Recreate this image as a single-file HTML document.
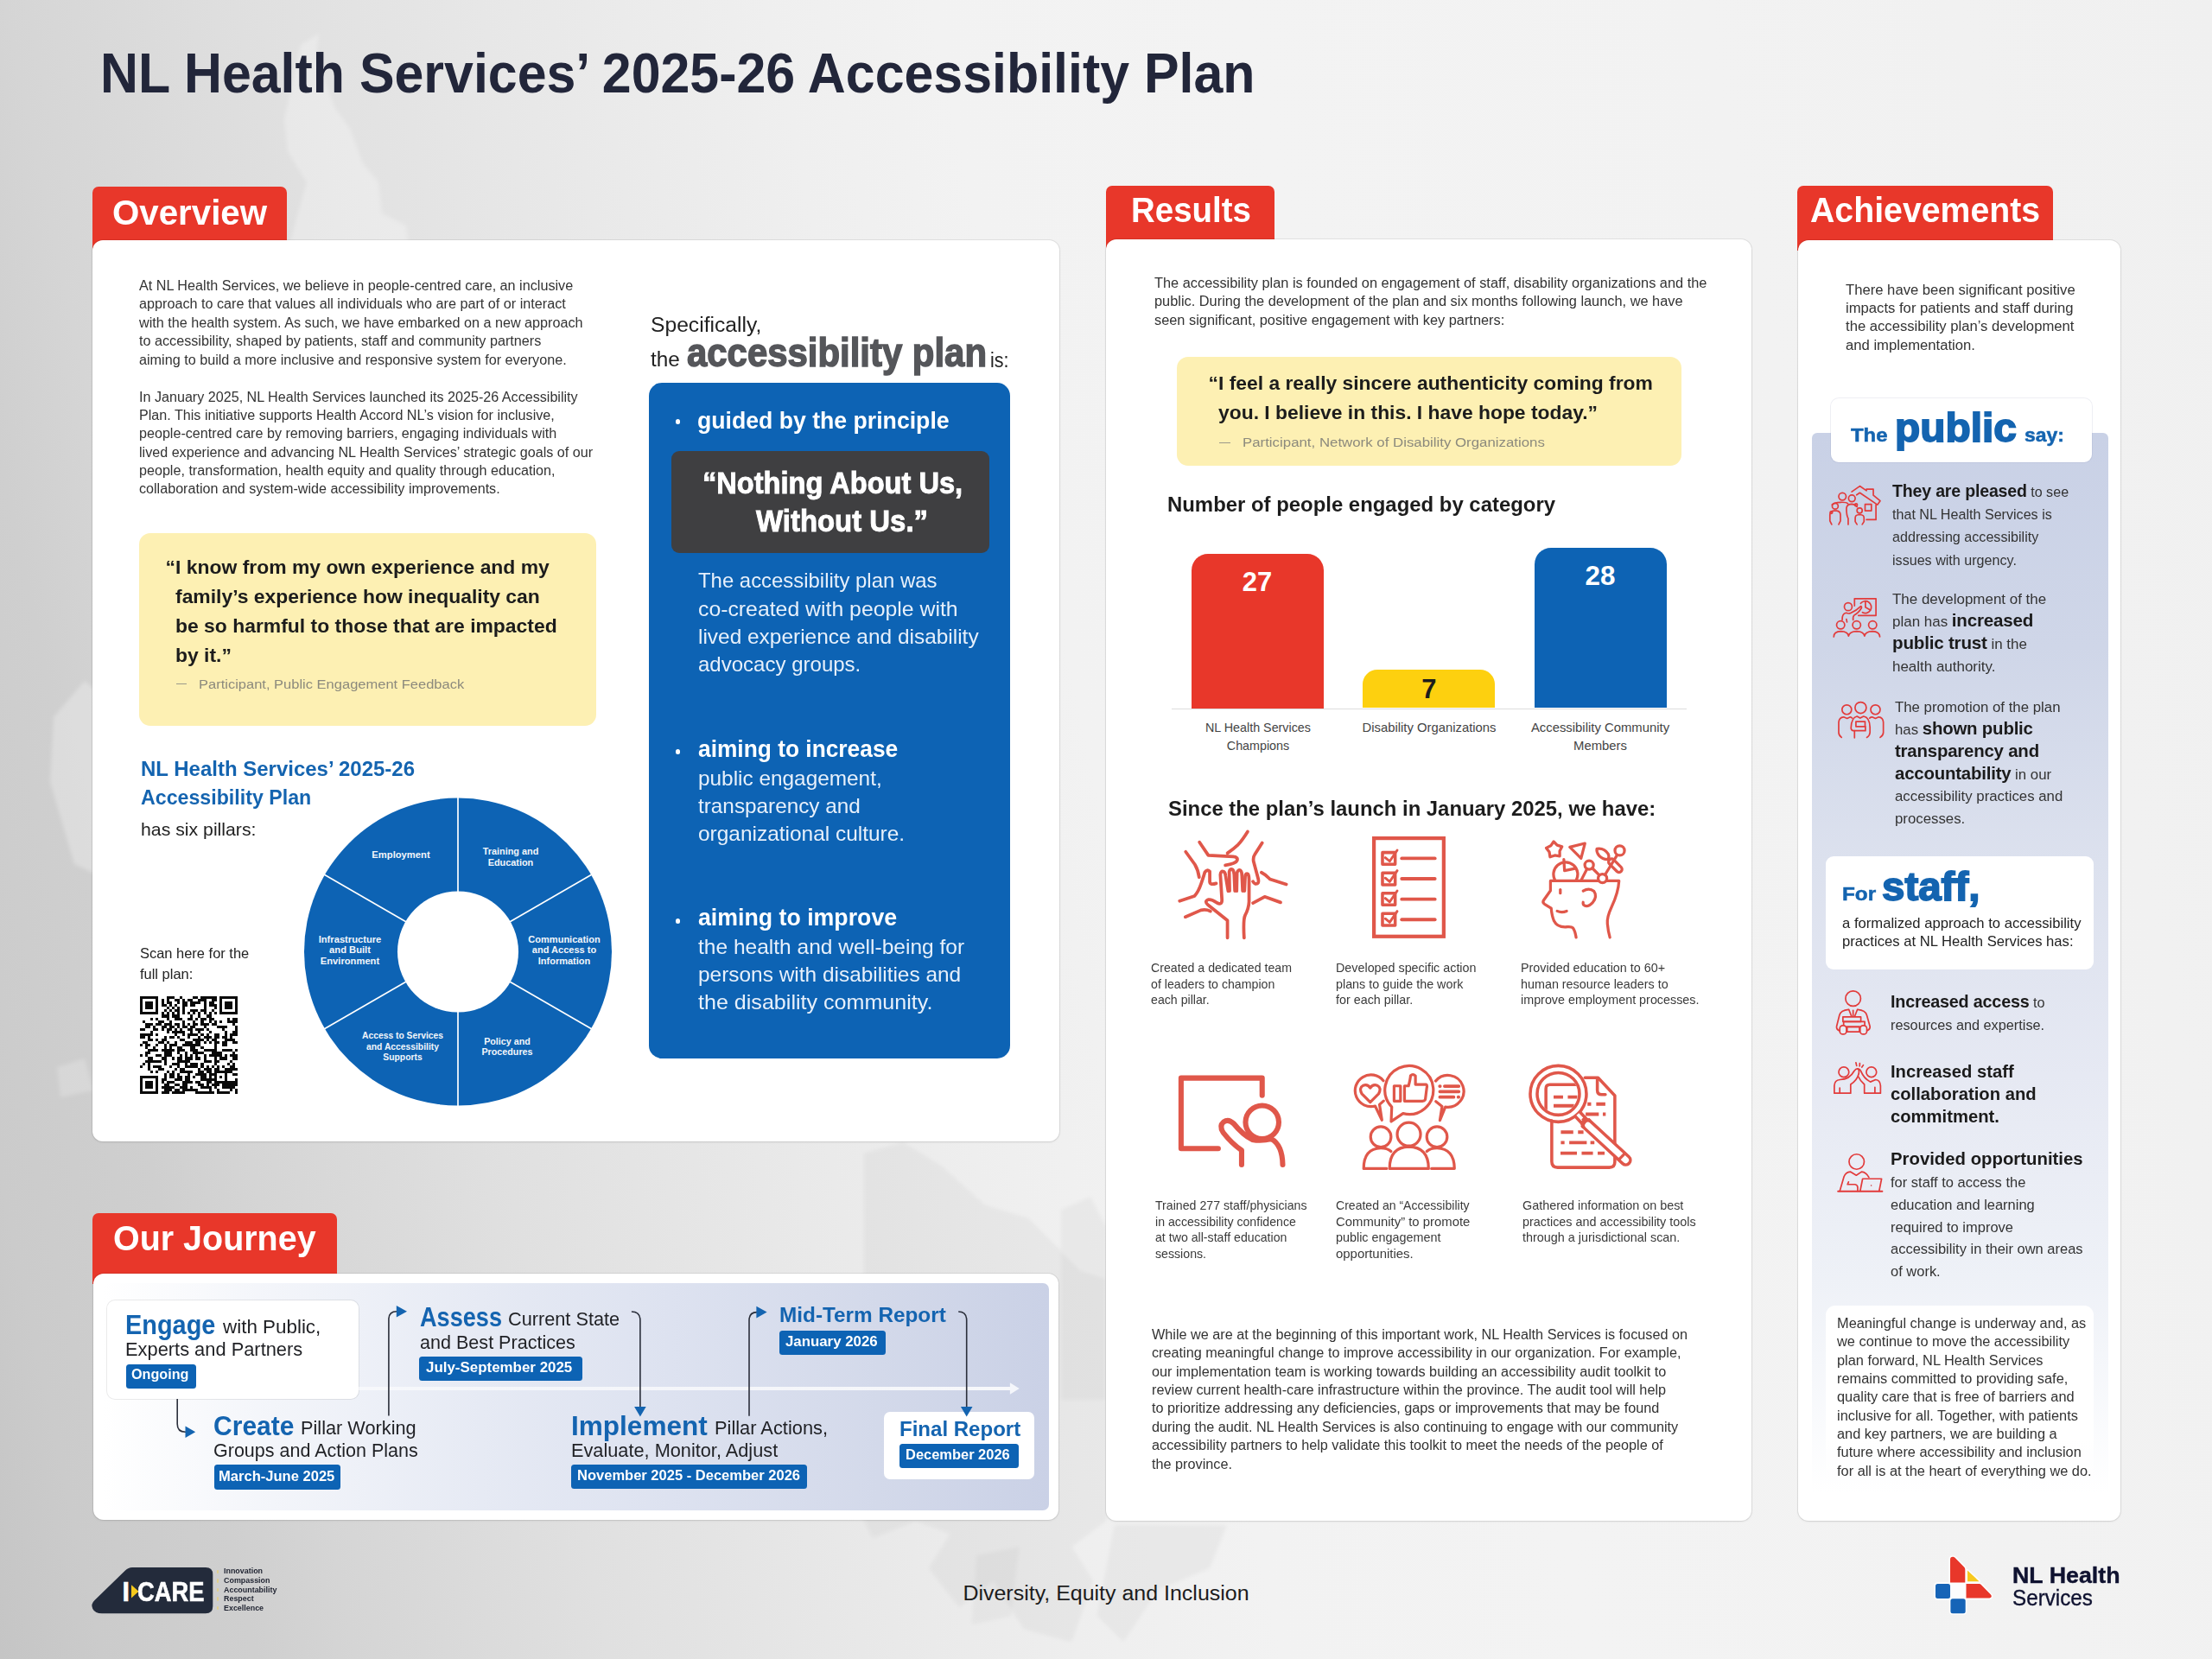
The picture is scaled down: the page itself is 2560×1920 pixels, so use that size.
<!DOCTYPE html><html lang="en"><head><meta charset="utf-8"><title>NL Health Services 2025-26 Accessibility Plan</title><style>
*{box-sizing:border-box}
html,body{margin:0;padding:0}
body{width:2560px;height:1920px;overflow:hidden;position:relative;font-family:"Liberation Sans",sans-serif;
background:#ececec}
#pg{position:absolute;left:0;top:0;width:2560px;height:1920px;overflow:hidden}
#pg>div,#pg>svg{position:absolute}
.t{white-space:nowrap}
b{font-weight:700}
</style></head><body><div id="pg">
<div style="left:0;top:0;width:2560px;height:1920px;background:linear-gradient(78deg,#c5c5c5 0%,#cbcbcb 4%,#cfcfcf 10%,#d5d5d5 13.9%,#e0e0e0 23.8%,#e8e8e8 33.7%,#efefef 43.6%,#f2f2f2 50%,#f3f3f3 62%,#f2f2f2 80%,#f0f0f0 100%)"></div>
<svg style="left:0;top:0" width="2560" height="1920" viewBox="0 0 2560 1920">
<defs><filter id="bl" x="-10%" y="-10%" width="120%" height="120%"><feGaussianBlur stdDeviation="2.2"/></filter></defs>
<g filter="url(#bl)">
<polygon points="329,138 348,52 369,39 366,66 387,124 405,149 420,189 438,211 442,247 470,261 474,290 333,290 355,211 333,175" fill="rgba(255,255,255,.27)"/>
<polygon points="62,830 98,788 112,800 112,1012 86,1000 58,905" fill="rgba(255,255,255,.27)"/>
<polygon points="66,1235 98,1225 108,1262 70,1270" fill="rgba(255,255,255,.2)"/>
<polygon points="1000,1335 1045,1322 1090,1350 1140,1395 1190,1410 1225,1445 1250,1470 1280,1480 1280,1760 1240,1790 1265,1830 1240,1900 1185,1885 1150,1830 1110,1860 1075,1815 1100,1775 1060,1760 1010,1780 1000,1760" fill="rgba(0,0,0,.035)"/>
<polygon points="1228,1400 1262,1385 1280,1420 1280,1620 1228,1620" fill="rgba(0,0,0,.03)"/>
<polygon points="1290,1765 1420,1765 1400,1815 1340,1840 1300,1900 1270,1870" fill="rgba(0,0,0,.035)"/>
<polygon points="1130,1800 1180,1790 1170,1870 1125,1880" fill="rgba(0,0,0,.03)"/>
</g></svg>
<div class="t" id="t0" style="left:115.6px;transform-origin:0 0;transform:scaleX(0.9437);top:45.1px;font-size:64.5px;line-height:80.62px;font-weight:700;color:#22263a;"><span class="ln">NL Health Services’ 2025-26 Accessibility Plan</span></div>
<div style="left:106.5px;top:216.0px;width:225.0px;height:74.0px;background:#e8372a;border-radius:7px 7px 0 0;"></div>
<div class="t" id="t1" style="left:129.5px;transform-origin:0 0;transform:scaleX(0.9822);top:220.6px;font-size:41px;line-height:51.25px;font-weight:700;color:#fff;"><span class="ln">Overview</span></div>
<div style="left:107.0px;top:278.0px;width:1118.5px;height:1043.0px;background:#fff;border-radius:12px;box-shadow:0 0 0 1px rgba(0,0,0,.07),0 1px 3px rgba(0,0,0,.08);"></div>
<div class="t" id="t2" style="left:160.5px;transform-origin:0 0;transform:scaleX(1.0113);top:319.9px;font-size:16px;line-height:21.45px;font-weight:400;color:#333;"><span class="ln">At NL Health Services, we believe in people-centred care, an inclusive</span><br><span class="ln">approach to care that values all individuals who are part of or interact</span><br><span class="ln">with the health system. As such, we have embarked on a new approach</span><br><span class="ln">to accessibility, shaped by patients, staff and community partners</span><br><span class="ln">aiming to build a more inclusive and responsive system for everyone.</span></div>
<div class="t" id="t3" style="left:160.5px;transform-origin:0 0;transform:scaleX(1.0079);top:448.6px;font-size:16px;line-height:21.36px;font-weight:400;color:#333;"><span class="ln">In January 2025, NL Health Services launched its 2025-26 Accessibility</span><br><span class="ln">Plan. This initiative supports Health Accord NL’s vision for inclusive,</span><br><span class="ln">people-centred care by removing barriers, engaging individuals with</span><br><span class="ln">lived experience and advancing NL Health Services’ strategic goals of our</span><br><span class="ln">people, transformation, health equity and quality through education,</span><br><span class="ln">collaboration and system-wide accessibility improvements.</span></div>
<div style="left:160.5px;top:617.0px;width:529.5px;height:223.0px;background:#fdf0b3;border-radius:13px;"></div>
<div class="t" id="t4" style="left:203.0px;transform-origin:0 0;transform:scaleX(1.0413);top:639.5px;font-size:22px;line-height:34.1px;font-weight:700;color:#1c1c1c;"><span class="ln"><span style="margin-left:-0.5em">“</span>I know from my own experience and my</span><br><span class="ln">family’s experience how inequality can</span><br><span class="ln">be so harmful to those that are impacted</span><br><span class="ln">by it.”</span></div>
<div style="left:203.7px;top:791.4px;width:12.3px;height:1.1px;background:#9c9a8a;border-radius:0px;"></div>
<div class="t" id="t5" style="left:230.0px;transform-origin:0 0;transform:scaleX(1.0718);top:782.2px;font-size:15.4px;line-height:19.25px;font-weight:400;color:#8c8a7d;"><span class="ln">Participant, Public Engagement Feedback</span></div>
<div class="t" id="t6" style="left:163.0px;transform-origin:0 0;transform:scaleX(1.0432);top:873.8px;font-size:23px;line-height:33.3px;font-weight:700;color:#1464b0;"><span class="ln">NL Health Services’ 2025-26</span></div>
<div class="t" id="t7" style="left:163.0px;transform-origin:0 0;transform:scaleX(1.0082);top:907.1px;font-size:23px;line-height:33.3px;font-weight:700;color:#1464b0;"><span class="ln">Accessibility Plan</span></div>
<div class="t" id="t8" style="left:163.0px;transform-origin:0 0;transform:scaleX(1.0122);top:946.6px;font-size:21px;line-height:26.25px;font-weight:400;color:#222;"><span class="ln">has six pillars:</span></div>
<div class="t" id="t9" style="left:162.2px;transform-origin:0 0;transform:scaleX(0.9970);top:1091.1px;font-size:16.5px;line-height:24px;font-weight:400;color:#222;"><span class="ln">Scan here for the</span><br><span class="ln">full plan:</span></div>
<svg style="left:162.2px;top:1152.8px" width="113.4" height="113.4" viewBox="0 0 37 37" shape-rendering="crispEdges"><rect width="37" height="37" fill="#fff"/><path d="M0 0h7v1h-7zM10 0h3v1h-3zM15 0h1v1h-1zM20 0h2v1h-2zM23 0h6v1h-6zM30 0h7v1h-7zM0 1h1v1h-1zM6 1h1v1h-1zM8 1h1v1h-1zM10 1h1v1h-1zM13 1h2v1h-2zM16 1h1v1h-1zM18 1h2v1h-2zM22 1h3v1h-3zM27 1h2v1h-2zM30 1h1v1h-1zM36 1h1v1h-1zM0 2h1v1h-1zM2 2h3v1h-3zM6 2h1v1h-1zM8 2h1v1h-1zM10 2h2v1h-2zM14 2h1v1h-1zM16 2h2v1h-2zM19 2h4v1h-4zM24 2h1v1h-1zM26 2h2v1h-2zM30 2h1v1h-1zM32 2h3v1h-3zM36 2h1v1h-1zM0 3h1v1h-1zM2 3h3v1h-3zM6 3h1v1h-1zM8 3h2v1h-2zM11 3h1v1h-1zM13 3h1v1h-1zM16 3h2v1h-2zM19 3h2v1h-2zM24 3h1v1h-1zM26 3h3v1h-3zM30 3h1v1h-1zM32 3h3v1h-3zM36 3h1v1h-1zM0 4h1v1h-1zM2 4h3v1h-3zM6 4h1v1h-1zM10 4h1v1h-1zM12 4h1v1h-1zM14 4h1v1h-1zM16 4h1v1h-1zM24 4h1v1h-1zM28 4h1v1h-1zM30 4h1v1h-1zM32 4h3v1h-3zM36 4h1v1h-1zM0 5h1v1h-1zM6 5h1v1h-1zM9 5h1v1h-1zM11 5h1v1h-1zM13 5h2v1h-2zM16 5h1v1h-1zM19 5h3v1h-3zM23 5h2v1h-2zM27 5h1v1h-1zM30 5h1v1h-1zM36 5h1v1h-1zM0 6h7v1h-7zM8 6h1v1h-1zM10 6h1v1h-1zM12 6h1v1h-1zM14 6h1v1h-1zM16 6h1v1h-1zM18 6h1v1h-1zM20 6h1v1h-1zM22 6h1v1h-1zM24 6h1v1h-1zM26 6h1v1h-1zM28 6h1v1h-1zM30 6h7v1h-7zM8 7h3v1h-3zM12 7h3v1h-3zM19 7h1v1h-1zM22 7h1v1h-1zM25 7h2v1h-2zM4 8h1v1h-1zM6 8h1v1h-1zM10 8h1v1h-1zM13 8h3v1h-3zM18 8h2v1h-2zM21 8h1v1h-1zM23 8h2v1h-2zM26 8h2v1h-2zM33 8h1v1h-1zM35 8h2v1h-2zM1 9h1v1h-1zM7 9h2v1h-2zM11 9h1v1h-1zM16 9h1v1h-1zM20 9h1v1h-1zM23 9h1v1h-1zM26 9h1v1h-1zM28 9h1v1h-1zM30 9h1v1h-1zM33 9h4v1h-4zM2 10h3v1h-3zM6 10h2v1h-2zM9 10h3v1h-3zM13 10h2v1h-2zM16 10h1v1h-1zM18 10h1v1h-1zM20 10h2v1h-2zM23 10h3v1h-3zM27 10h2v1h-2zM35 10h1v1h-1zM2 11h2v1h-2zM5 11h1v1h-1zM8 11h2v1h-2zM11 11h2v1h-2zM14 11h1v1h-1zM16 11h2v1h-2zM19 11h2v1h-2zM24 11h1v1h-1zM29 11h4v1h-4zM36 11h1v1h-1zM0 12h2v1h-2zM5 12h2v1h-2zM8 12h1v1h-1zM10 12h2v1h-2zM13 12h1v1h-1zM15 12h1v1h-1zM18 12h2v1h-2zM21 12h3v1h-3zM25 12h1v1h-1zM31 12h1v1h-1zM36 12h1v1h-1zM4 13h1v1h-1zM10 13h1v1h-1zM12 13h5v1h-5zM19 13h1v1h-1zM22 13h1v1h-1zM26 13h1v1h-1zM32 13h1v1h-1zM35 13h2v1h-2zM0 14h5v1h-5zM6 14h1v1h-1zM13 14h1v1h-1zM16 14h1v1h-1zM18 14h4v1h-4zM23 14h1v1h-1zM25 14h1v1h-1zM28 14h2v1h-2zM32 14h1v1h-1zM34 14h3v1h-3zM0 15h2v1h-2zM3 15h1v1h-1zM9 15h1v1h-1zM11 15h2v1h-2zM14 15h1v1h-1zM18 15h1v1h-1zM22 15h1v1h-1zM24 15h3v1h-3zM28 15h2v1h-2zM31 15h2v1h-2zM34 15h1v1h-1zM3 16h2v1h-2zM6 16h1v1h-1zM8 16h2v1h-2zM15 16h2v1h-2zM20 16h4v1h-4zM25 16h1v1h-1zM27 16h2v1h-2zM32 16h4v1h-4zM1 17h2v1h-2zM7 17h2v1h-2zM10 17h1v1h-1zM13 17h1v1h-1zM17 17h3v1h-3zM21 17h2v1h-2zM24 17h1v1h-1zM26 17h1v1h-1zM28 17h2v1h-2zM31 17h2v1h-2zM35 17h2v1h-2zM0 18h1v1h-1zM2 18h2v1h-2zM6 18h1v1h-1zM9 18h1v1h-1zM11 18h3v1h-3zM16 18h7v1h-7zM28 18h1v1h-1zM31 18h2v1h-2zM2 19h1v1h-1zM5 19h1v1h-1zM9 19h1v1h-1zM11 19h1v1h-1zM14 19h2v1h-2zM19 19h2v1h-2zM23 19h1v1h-1zM28 19h1v1h-1zM3 20h4v1h-4zM8 20h5v1h-5zM14 20h3v1h-3zM19 20h3v1h-3zM24 20h5v1h-5zM31 20h4v1h-4zM36 20h1v1h-1zM2 21h2v1h-2zM9 21h3v1h-3zM14 21h1v1h-1zM17 21h1v1h-1zM20 21h4v1h-4zM27 21h4v1h-4zM35 21h1v1h-1zM0 22h1v1h-1zM2 22h1v1h-1zM6 22h2v1h-2zM9 22h3v1h-3zM15 22h1v1h-1zM17 22h1v1h-1zM19 22h1v1h-1zM21 22h1v1h-1zM24 22h1v1h-1zM26 22h5v1h-5zM32 22h1v1h-1zM34 22h3v1h-3zM3 23h2v1h-2zM8 23h2v1h-2zM12 23h1v1h-1zM14 23h2v1h-2zM17 23h3v1h-3zM21 23h2v1h-2zM24 23h1v1h-1zM28 23h1v1h-1zM30 23h3v1h-3zM35 23h2v1h-2zM2 24h6v1h-6zM9 24h1v1h-1zM14 24h5v1h-5zM24 24h3v1h-3zM28 24h2v1h-2zM34 24h1v1h-1zM1 25h1v1h-1zM3 25h1v1h-1zM9 25h1v1h-1zM12 25h3v1h-3zM17 25h1v1h-1zM19 25h3v1h-3zM23 25h1v1h-1zM28 25h1v1h-1zM33 25h1v1h-1zM35 25h1v1h-1zM0 26h1v1h-1zM3 26h1v1h-1zM5 26h3v1h-3zM11 26h1v1h-1zM14 26h1v1h-1zM17 26h5v1h-5zM23 26h1v1h-1zM25 26h1v1h-1zM27 26h1v1h-1zM29 26h1v1h-1zM31 26h1v1h-1zM34 26h2v1h-2zM3 27h1v1h-1zM7 27h2v1h-2zM13 27h1v1h-1zM15 27h2v1h-2zM22 27h1v1h-1zM24 27h3v1h-3zM28 27h2v1h-2zM32 27h5v1h-5zM4 28h1v1h-1zM6 28h1v1h-1zM10 28h1v1h-1zM12 28h1v1h-1zM15 28h5v1h-5zM22 28h2v1h-2zM25 28h2v1h-2zM28 28h7v1h-7zM9 29h1v1h-1zM11 29h2v1h-2zM14 29h1v1h-1zM18 29h1v1h-1zM21 29h4v1h-4zM26 29h3v1h-3zM32 29h1v1h-1zM35 29h2v1h-2zM0 30h7v1h-7zM9 30h1v1h-1zM11 30h2v1h-2zM14 30h2v1h-2zM17 30h2v1h-2zM20 30h1v1h-1zM23 30h2v1h-2zM26 30h1v1h-1zM28 30h1v1h-1zM30 30h1v1h-1zM32 30h1v1h-1zM0 31h1v1h-1zM6 31h1v1h-1zM8 31h2v1h-2zM13 31h3v1h-3zM17 31h2v1h-2zM23 31h6v1h-6zM32 31h1v1h-1zM36 31h1v1h-1zM0 32h1v1h-1zM2 32h3v1h-3zM6 32h1v1h-1zM8 32h1v1h-1zM10 32h3v1h-3zM16 32h4v1h-4zM21 32h2v1h-2zM25 32h2v1h-2zM28 32h9v1h-9zM0 33h1v1h-1zM2 33h3v1h-3zM6 33h1v1h-1zM9 33h2v1h-2zM13 33h2v1h-2zM16 33h2v1h-2zM22 33h2v1h-2zM25 33h1v1h-1zM27 33h3v1h-3zM31 33h6v1h-6zM0 34h1v1h-1zM2 34h3v1h-3zM6 34h1v1h-1zM8 34h5v1h-5zM15 34h3v1h-3zM19 34h1v1h-1zM23 34h4v1h-4zM28 34h1v1h-1zM31 34h5v1h-5zM0 35h1v1h-1zM6 35h1v1h-1zM9 35h3v1h-3zM13 35h2v1h-2zM16 35h6v1h-6zM26 35h1v1h-1zM29 35h1v1h-1zM34 35h1v1h-1zM36 35h1v1h-1zM0 36h7v1h-7zM8 36h3v1h-3zM12 36h5v1h-5zM21 36h7v1h-7zM29 36h5v1h-5zM36 36h1v1h-1z" fill="#0a0a0a"/></svg>
<svg style="left:340px;top:915px" width="380" height="375" viewBox="340 915 380 375">
<circle cx="530.0" cy="1101.5" r="178.0" fill="#0d63b4"/>
<g stroke="#fff" stroke-width="1.7"><line x1="530.0" y1="1038.5" x2="530.0" y2="922.5"/><line x1="584.6" y1="1070.0" x2="685.0" y2="1012.0"/><line x1="584.6" y1="1133.0" x2="685.0" y2="1191.0"/><line x1="530.0" y1="1164.5" x2="530.0" y2="1280.5"/><line x1="475.4" y1="1133.0" x2="375.0" y2="1191.0"/><line x1="475.4" y1="1070.0" x2="375.0" y2="1012.0"/></g>
<circle cx="530.0" cy="1101.5" r="70.0" fill="#fff"/></svg>
<div class="t" id="t10" style="left:464.0px;text-align:center;transform-origin:0 0;transform:scaleX(1.0024) translateX(-50%);top:983.0px;font-size:11.2px;line-height:12.8px;font-weight:700;color:#f2f6fb;"><span class="ln">Employment</span></div>
<div class="t" id="t11" style="left:591.0px;text-align:center;transform-origin:0 0;transform:scaleX(0.9712) translateX(-50%);top:978.9px;font-size:11.2px;line-height:12.8px;font-weight:700;color:#f2f6fb;"><span class="ln">Training and</span><br><span class="ln">Education</span></div>
<div class="t" id="t12" style="left:405.0px;text-align:center;transform-origin:0 0;transform:scaleX(0.9993) translateX(-50%);top:1080.5px;font-size:11.2px;line-height:12.8px;font-weight:700;color:#f2f6fb;"><span class="ln">Infrastructure</span><br><span class="ln">and Built</span><br><span class="ln">Environment</span></div>
<div class="t" id="t13" style="left:653.4px;text-align:center;transform-origin:0 0;transform:scaleX(0.9854) translateX(-50%);top:1080.5px;font-size:11.2px;line-height:12.8px;font-weight:700;color:#f2f6fb;"><span class="ln">Communication</span><br><span class="ln">and Access to</span><br><span class="ln">Information</span></div>
<div class="t" id="t14" style="left:466.3px;text-align:center;transform-origin:0 0;transform:scaleX(0.9216) translateX(-50%);top:1191.8px;font-size:11.2px;line-height:12.8px;font-weight:700;color:#f2f6fb;"><span class="ln">Access to Services</span><br><span class="ln">and Accessibility</span><br><span class="ln">Supports</span></div>
<div class="t" id="t15" style="left:586.7px;text-align:center;transform-origin:0 0;transform:scaleX(0.9600) translateX(-50%);top:1198.5px;font-size:11.2px;line-height:12.8px;font-weight:700;color:#f2f6fb;"><span class="ln">Policy and</span><br><span class="ln">Procedures</span></div>
<div class="t" id="t16" style="left:753.0px;transform-origin:0 0;transform:scaleX(1.0487);top:362.4px;font-size:23.5px;line-height:29.38px;font-weight:400;color:#222;"><span class="ln">Specifically,</span></div>
<div class="t" id="t17" style="left:753.0px;transform-origin:0 0;transform:scaleX(1.0345);top:402.0px;font-size:23.5px;line-height:29.38px;font-weight:400;color:#222;"><span class="ln">the</span></div>
<div class="t" id="t18" style="left:795.4px;transform-origin:0 0;transform:scaleX(0.9208);top:380.6px;font-size:45.5px;line-height:56.88px;font-weight:700;color:#55565a;-webkit-text-stroke:1.5px #55565a;"><span class="ln">accessibility plan</span></div>
<div class="t" id="t19" style="left:1145.7px;transform-origin:0 0;transform:scaleX(0.9348);top:402.5px;font-size:23px;line-height:28.75px;font-weight:400;color:#222;"><span class="ln">is:</span></div>
<div style="left:751.3px;top:442.8px;width:418.2px;height:782.5px;background:#0d63b4;border-radius:15px;"></div>
<div style="left:781.8px;top:485.2px;width:5.6px;height:5.6px;background:#fff;border-radius:50%;"></div>
<div class="t" id="t20" style="left:807.4px;transform-origin:0 0;transform:scaleX(0.9515);top:468.8px;font-size:28px;line-height:35.0px;font-weight:700;color:#fff;"><span class="ln">guided by the principle</span></div>
<div style="left:776.6px;top:522.0px;width:368.0px;height:117.5px;background:#3f3f41;border-radius:9px;"></div>
<div class="t" id="t21" style="left:812.8px;transform-origin:0 0;transform:scaleX(0.9449);top:538.2px;font-size:34.5px;line-height:43.12px;font-weight:700;color:#fff;-webkit-text-stroke:0.9px #fff;"><span class="ln">“Nothing About Us,</span></div>
<div class="t" id="t22" style="left:874.5px;transform-origin:0 0;transform:scaleX(0.9541);top:582.3px;font-size:34.5px;line-height:43.12px;font-weight:700;color:#fff;-webkit-text-stroke:0.9px #fff;"><span class="ln">Without Us.”</span></div>
<div class="t" id="t23" style="left:808.3px;transform-origin:0 0;transform:scaleX(0.9962);top:656.3px;font-size:24px;line-height:32.2px;font-weight:400;color:#e7f0fb;"><span class="ln">The accessibility plan was</span></div>
<div class="t" id="t24" style="left:808.3px;transform-origin:0 0;transform:scaleX(1.0336);top:688.5px;font-size:24px;line-height:32.2px;font-weight:400;color:#e7f0fb;"><span class="ln">co-created with people with</span></div>
<div class="t" id="t25" style="left:808.3px;transform-origin:0 0;transform:scaleX(1.0180);top:720.7px;font-size:24px;line-height:32.2px;font-weight:400;color:#e7f0fb;"><span class="ln">lived experience and disability</span></div>
<div class="t" id="t26" style="left:808.3px;transform-origin:0 0;transform:scaleX(1.0010);top:752.9px;font-size:24px;line-height:32.2px;font-weight:400;color:#e7f0fb;"><span class="ln">advocacy groups.</span></div>
<div style="left:781.7px;top:867.2px;width:5.6px;height:5.6px;background:#fff;border-radius:50%;"></div>
<div class="t" id="t27" style="left:808.3px;transform-origin:0 0;transform:scaleX(0.9403);top:849.0px;font-size:28px;line-height:35.0px;font-weight:700;color:#fff;"><span class="ln">aiming to increase</span></div>
<div class="t" id="t28" style="left:808.3px;transform-origin:0 0;transform:scaleX(1.0154);top:884.6px;font-size:24px;line-height:32.2px;font-weight:400;color:#e7f0fb;"><span class="ln">public engagement,</span></div>
<div class="t" id="t29" style="left:808.3px;transform-origin:0 0;transform:scaleX(1.0127);top:916.8px;font-size:24px;line-height:32.2px;font-weight:400;color:#e7f0fb;"><span class="ln">transparency and</span></div>
<div class="t" id="t30" style="left:808.3px;transform-origin:0 0;transform:scaleX(1.0183);top:949.0px;font-size:24px;line-height:32.2px;font-weight:400;color:#e7f0fb;"><span class="ln">organizational culture.</span></div>
<div style="left:781.7px;top:1063.2px;width:5.6px;height:5.6px;background:#fff;border-radius:50%;"></div>
<div class="t" id="t31" style="left:808.3px;transform-origin:0 0;transform:scaleX(0.9542);top:1044.3px;font-size:28px;line-height:35.0px;font-weight:700;color:#fff;"><span class="ln">aiming to improve</span></div>
<div class="t" id="t32" style="left:808.3px;transform-origin:0 0;transform:scaleX(1.0217);top:1079.9px;font-size:24px;line-height:32.2px;font-weight:400;color:#e7f0fb;"><span class="ln">the health and well-being for</span></div>
<div class="t" id="t33" style="left:808.3px;transform-origin:0 0;transform:scaleX(1.0180);top:1112.1px;font-size:24px;line-height:32.2px;font-weight:400;color:#e7f0fb;"><span class="ln">persons with disabilities and</span></div>
<div class="t" id="t34" style="left:808.3px;transform-origin:0 0;transform:scaleX(1.0452);top:1144.3px;font-size:24px;line-height:32.2px;font-weight:400;color:#e7f0fb;"><span class="ln">the disability community.</span></div>
<div style="left:106.8px;top:1403.6px;width:283.4px;height:82.4px;background:#e8372a;border-radius:7px 7px 0 0;"></div>
<div class="t" id="t35" style="left:131.2px;transform-origin:0 0;transform:scaleX(0.9623);top:1408.0px;font-size:41px;line-height:51.25px;font-weight:700;color:#fff;"><span class="ln">Our Journey</span></div>
<div style="left:107.6px;top:1473.5px;width:1117.4px;height:285.1px;background:#fff;border-radius:12px;box-shadow:0 0 0 1px rgba(0,0,0,.07),0 1px 3px rgba(0,0,0,.08);"></div>
<div style="left:118.6px;top:1485.3px;width:1095.9px;height:263.0px;background:linear-gradient(to right,#ffffff 0%,#f3f5fa 18%,#e6eaf4 40%,#dde2f0 60%,#d3d9ea 82%,#cad1e6 100%);border-radius:7px;"></div>
<div style="left:124.4px;top:1505.3px;width:290.8px;height:113.3px;background:#fff;border-radius:9px;box-shadow:0 0 0 1px rgba(0,0,0,.08);"></div>
<div style="left:415.0px;top:1605.1px;width:755.0px;height:3.8px;background:linear-gradient(to right,rgba(255,255,255,.55),rgba(255,255,255,.85));border-radius:0px;"></div>
<svg style="left:1160px;top:1595px" width="24" height="24" viewBox="0 0 24 24"><polygon points="8.9,5.2 19.7,12 8.9,18.8" fill="#f4f6fb"/></svg>
<div class="t" id="t36" style="left:144.8px;transform-origin:0 0;transform:scaleX(0.9476);top:1513.6px;font-size:30.5px;line-height:38.12px;font-weight:700;color:#1464b0;"><span class="ln">Engage</span></div>
<div class="t" id="t37" style="left:257.9px;transform-origin:0 0;transform:scaleX(1.0046);top:1521.5px;font-size:22.3px;line-height:27.88px;font-weight:400;color:#1f2024;"><span class="ln">with Public,</span></div>
<div class="t" id="t38" style="left:144.8px;transform-origin:0 0;transform:scaleX(0.9797);top:1547.8px;font-size:22.3px;line-height:27.88px;font-weight:400;color:#1f2024;"><span class="ln">Experts and Partners</span></div>
<div style="left:146.1px;top:1578.5px;width:81.4px;height:28.5px;background:#0d63b4;border-radius:3.5px;"></div>
<div class="t" id="t39" style="left:151.5px;transform-origin:0 0;transform:scaleX(0.9517);top:1580.2px;font-size:17px;line-height:21.25px;font-weight:700;color:#fff;"><span class="ln">Ongoing</span></div>
<div class="t" id="t40" style="left:246.5px;transform-origin:0 0;transform:scaleX(0.9847);top:1631.4px;font-size:30.5px;line-height:38.12px;font-weight:700;color:#1464b0;"><span class="ln">Create</span></div>
<div class="t" id="t41" style="left:348.2px;transform-origin:0 0;transform:scaleX(0.9750);top:1639.3px;font-size:22.3px;line-height:27.88px;font-weight:400;color:#1f2024;"><span class="ln">Pillar Working</span></div>
<div class="t" id="t42" style="left:246.5px;transform-origin:0 0;transform:scaleX(0.9645);top:1665.3px;font-size:22.3px;line-height:27.88px;font-weight:400;color:#1f2024;"><span class="ln">Groups and Action Plans</span></div>
<div style="left:247.8px;top:1695.0px;width:145.9px;height:28.6px;background:#0d63b4;border-radius:3.5px;"></div>
<div class="t" id="t43" style="left:253.2px;transform-origin:0 0;transform:scaleX(0.9735);top:1697.5px;font-size:17px;line-height:21.25px;font-weight:700;color:#fff;"><span class="ln">March-June 2025</span></div>
<div class="t" id="t44" style="left:485.7px;transform-origin:0 0;transform:scaleX(0.8891);top:1505.4px;font-size:30.5px;line-height:38.12px;font-weight:700;color:#1464b0;"><span class="ln">Assess</span></div>
<div class="t" id="t45" style="left:587.7px;transform-origin:0 0;transform:scaleX(0.9735);top:1513.3px;font-size:22.3px;line-height:27.88px;font-weight:400;color:#1f2024;"><span class="ln">Current State</span></div>
<div class="t" id="t46" style="left:485.7px;transform-origin:0 0;transform:scaleX(0.9672);top:1539.7px;font-size:22.3px;line-height:27.88px;font-weight:400;color:#1f2024;"><span class="ln">and Best Practices</span></div>
<div style="left:484.6px;top:1569.5px;width:189.6px;height:28.8px;background:#0d63b4;border-radius:3.5px;"></div>
<div class="t" id="t47" style="left:492.7px;transform-origin:0 0;transform:scaleX(0.9953);top:1572.3px;font-size:17px;line-height:21.25px;font-weight:700;color:#fff;"><span class="ln">July-September 2025</span></div>
<div class="t" id="t48" style="left:661.2px;transform-origin:0 0;transform:scaleX(1.0345);top:1630.7px;font-size:30.5px;line-height:38.12px;font-weight:700;color:#1464b0;"><span class="ln">Implement</span></div>
<div class="t" id="t49" style="left:827.1px;transform-origin:0 0;transform:scaleX(0.9788);top:1638.6px;font-size:22.3px;line-height:27.88px;font-weight:400;color:#1f2024;"><span class="ln">Pillar Actions,</span></div>
<div class="t" id="t50" style="left:661.2px;transform-origin:0 0;transform:scaleX(0.9746);top:1665.3px;font-size:22.3px;line-height:27.88px;font-weight:400;color:#1f2024;"><span class="ln">Evaluate, Monitor, Adjust</span></div>
<div style="left:661.2px;top:1694.6px;width:273.1px;height:28.4px;background:#0d63b4;border-radius:3.5px;"></div>
<div class="t" id="t51" style="left:667.7px;transform-origin:0 0;transform:scaleX(0.9716);top:1697.1px;font-size:17px;line-height:21.25px;font-weight:700;color:#fff;"><span class="ln">November 2025 - December 2026</span></div>
<div class="t" id="t52" style="left:902.3px;transform-origin:0 0;transform:scaleX(0.9890);top:1507.1px;font-size:24.6px;line-height:30.75px;font-weight:700;color:#1464b0;"><span class="ln">Mid-Term Report</span></div>
<div style="left:902.3px;top:1539.7px;width:122.3px;height:27.9px;background:#0d63b4;border-radius:3.5px;"></div>
<div class="t" id="t53" style="left:908.5px;transform-origin:0 0;transform:scaleX(0.9893);top:1541.6px;font-size:17px;line-height:21.25px;font-weight:700;color:#fff;"><span class="ln">January 2026</span></div>
<div style="left:1023.0px;top:1633.5px;width:173.8px;height:78.5px;background:#fff;border-radius:7px;"></div>
<div class="t" id="t54" style="left:1041.4px;transform-origin:0 0;transform:scaleX(0.9772);top:1639.2px;font-size:24.6px;line-height:30.75px;font-weight:700;color:#1464b0;"><span class="ln">Final Report</span></div>
<div style="left:1041.4px;top:1670.7px;width:137.8px;height:28.5px;background:#0d63b4;border-radius:3.5px;"></div>
<div class="t" id="t55" style="left:1048.2px;transform-origin:0 0;transform:scaleX(0.9674);top:1672.7px;font-size:17px;line-height:21.25px;font-weight:700;color:#fff;"><span class="ln">December 2026</span></div>
<svg style="left:0;top:1480px" width="1240" height="280" viewBox="0 1480 1240 280" fill="none" stroke="#2b2f3b" stroke-width="1.6">
<path d="M205.2 1619 V1648 Q205.2 1657.2 214.4 1657.2 H216"/>
<path d="M449.9 1638.5 V1527 Q449.9 1517.7 459 1517.7 H460"/>
<path d="M730.9 1518 Q740.9 1518 740.9 1528 V1629"/>
<path d="M867 1638.7 V1528 Q867 1518.6 876 1518.6 H877"/>
<path d="M1109.2 1518 Q1118.7 1518 1118.7 1528 V1629"/>
<g fill="#1464b0" stroke="none">
<polygon points="214.5,1650.4 226.2,1657.2 214.5,1664"/>
<polygon points="458.8,1510.9 471,1517.7 458.8,1524.5"/>
<polygon points="734.1,1628 747.7,1628 740.9,1639.6"/>
<polygon points="875.4,1511.8 887.6,1518.6 875.4,1525.4"/>
<polygon points="1111.9,1628 1125.5,1628 1118.7,1639.6"/>
</g></svg>
<div style="left:1279.7px;top:214.6px;width:195.7px;height:75.4px;background:#e8372a;border-radius:7px 7px 0 0;"></div>
<div class="t" id="t56" style="left:1309.3px;transform-origin:0 0;transform:scaleX(0.9378);top:218.3px;font-size:41px;line-height:51.25px;font-weight:700;color:#fff;"><span class="ln">Results</span></div>
<div style="left:1279.7px;top:277.3px;width:747.3px;height:1482.7px;background:#fff;border-radius:12px;box-shadow:0 0 0 1px rgba(0,0,0,.07),0 1px 3px rgba(0,0,0,.08);"></div>
<div class="t" id="t57" style="left:1336.1px;transform-origin:0 0;transform:scaleX(1.0216);top:316.8px;font-size:16px;line-height:21.4px;font-weight:400;color:#333;"><span class="ln">The accessibility plan is founded on engagement of staff, disability organizations and the</span><br><span class="ln">public. During the development of the plan and six months following launch, we have</span><br><span class="ln">seen significant, positive engagement with key partners:</span></div>
<div style="left:1362.2px;top:413.0px;width:583.8px;height:126.4px;background:#fdf0b3;border-radius:13px;"></div>
<div class="t" id="t58" style="left:1410.0px;transform-origin:0 0;transform:scaleX(1.0387);top:426.7px;font-size:22px;line-height:34.3px;font-weight:700;color:#1c1c1c;"><span class="ln"><span style="margin-left:-0.5em">“</span>I feel a really sincere authenticity coming from</span><br><span class="ln">you. I believe in this. I have hope today.”</span></div>
<div style="left:1411.0px;top:511.6px;width:12.8px;height:1.1px;background:#9c9a8a;border-radius:0px;"></div>
<div class="t" id="t59" style="left:1438.1px;transform-origin:0 0;transform:scaleX(1.0937);top:502.4px;font-size:15.4px;line-height:19.25px;font-weight:400;color:#8c8a7d;"><span class="ln">Participant, Network of Disability Organizations</span></div>
<div class="t" id="t60" style="left:1351.2px;transform-origin:0 0;transform:scaleX(1.0221);top:569.9px;font-size:23.4px;line-height:29.25px;font-weight:700;color:#1c1c1c;"><span class="ln">Number of people engaged by category</span></div>
<div style="left:1356.4px;top:819.5px;width:596.0px;height:1.6px;background:#dcdcdc;border-radius:0px;"></div>
<div style="left:1379.1px;top:640.5px;width:152.8px;height:179.0px;background:#e8372a;border-radius:19px 19px 0 0;"></div>
<div style="left:1577.4px;top:774.8px;width:152.8px;height:44.7px;background:#fdd00f;border-radius:17px 17px 0 0;"></div>
<div style="left:1775.8px;top:633.8px;width:152.8px;height:185.7px;background:#0d63b4;border-radius:19px 19px 0 0;"></div>
<div class="t" id="t61" style="left:1455.3px;text-align:center;transform-origin:0 0;transform:scaleX(0.9976) translateX(-50%);top:654.5px;font-size:31px;line-height:38.75px;font-weight:700;color:#fff;"><span class="ln">27</span></div>
<div class="t" id="t62" style="left:1653.8px;text-align:center;transform-origin:0 0;transform:scaleX(1.0000) translateX(-50%);top:778.5px;font-size:31px;line-height:38.75px;font-weight:700;color:#1c1c1c;"><span class="ln">7</span></div>
<div class="t" id="t63" style="left:1852.3px;text-align:center;transform-origin:0 0;transform:scaleX(1.0121) translateX(-50%);top:647.7px;font-size:31px;line-height:38.75px;font-weight:700;color:#fff;"><span class="ln">28</span></div>
<div class="t" id="t64" style="left:1455.5px;text-align:center;transform-origin:0 0;transform:scaleX(0.9543) translateX(-50%);top:832.3px;font-size:15px;line-height:20.5px;font-weight:400;color:#444;"><span class="ln">NL Health Services</span><br><span class="ln">Champions</span></div>
<div class="t" id="t65" style="left:1654.1px;text-align:center;transform-origin:0 0;transform:scaleX(0.9883) translateX(-50%);top:832.3px;font-size:15px;line-height:20.5px;font-weight:400;color:#444;"><span class="ln">Disability Organizations</span></div>
<div class="t" id="t66" style="left:1852.2px;text-align:center;transform-origin:0 0;transform:scaleX(0.9906) translateX(-50%);top:832.3px;font-size:15px;line-height:20.5px;font-weight:400;color:#444;"><span class="ln">Accessibility Community</span><br><span class="ln">Members</span></div>
<div class="t" id="t67" style="left:1351.6px;transform-origin:0 0;transform:scaleX(1.0204);top:921.6px;font-size:23.4px;line-height:29.25px;font-weight:700;color:#1c1c1c;"><span class="ln">Since the plan’s launch in January 2025, we have:</span></div>
<svg style="left:1355px;top:955px" width="144" height="136" viewBox="0 0 1757 1659" fill="none" stroke="#e0574a" stroke-width="46" stroke-linecap="round" stroke-linejoin="round">
<path d="M1085 90 Q1010 210 950 275 Q880 340 800 395"/>
<path d="M405 240 L530 425 L880 445 Q955 450 935 500 Q920 540 770 565"/>
<path d="M210 375 L340 555 Q385 630 400 735"/>
<path d="M125 1070 L335 1000 Q390 940 430 820 Q465 720 480 665 Q510 615 550 655 L550 800 Q555 850 640 822"/>
<path d="M800 1590 V1345 L525 1125 Q465 1075 535 1050 Q580 1045 650 1095 Q725 1135 722 1050 L700 700 Q705 640 745 655 Q770 670 775 720 L810 930"/>
<path d="M830 930 L825 660 Q835 610 870 625 Q890 640 895 700 L905 930"/>
<path d="M930 930 L935 670 Q950 620 985 640 Q1005 660 1005 720 L1015 930"/>
<path d="M1040 930 L1050 720 Q1060 670 1090 690 Q1105 710 1105 780 L1105 1080 Q1100 1180 1050 1270 Q1020 1330 1035 1590"/>
<path d="M1290 250 L1185 415 Q1160 450 1168 510 L1235 760 Q1250 835 1195 828 Q1170 820 1160 795"/>
<path d="M1280 668 Q1345 700 1400 762 L1630 835"/>
<path d="M1160 1100 L1325 1010 L1550 1090"/>
<path d="M205 1295 L425 1200 Q500 1185 560 1215"/>
</svg>
<svg style="left:1575px;top:955px" width="120" height="140" viewBox="0 0 1422 1659" fill="none" stroke="#e0574a" stroke-width="44" stroke-linecap="round" stroke-linejoin="round"><rect x="179" y="179" width="957" height="1347" stroke-width="50" stroke-linejoin="miter"/><rect x="296" y="375" width="174" height="162" stroke-width="42"/><path d="M335 445 L395 495 L498 343" stroke-width="34"/><rect x="296" y="655" width="174" height="162" stroke-width="42"/><path d="M335 725 L395 775 L498 623" stroke-width="34"/><rect x="296" y="932" width="174" height="162" stroke-width="42"/><path d="M335 1002 L395 1052 L498 900" stroke-width="34"/><rect x="296" y="1212" width="174" height="162" stroke-width="42"/><path d="M335 1282 L395 1332 L498 1180" stroke-width="34"/><path d="M560 455 H1015" stroke-width="46"/><path d="M560 735 H1015" stroke-width="46"/><path d="M560 1015 H1015" stroke-width="46"/><path d="M560 1295 H1015" stroke-width="46"/></svg>
<svg style="left:1770px;top:960px" width="130" height="135" viewBox="0 0 1598 1659" fill="none" stroke="#e0574a" stroke-width="40" stroke-linecap="round" stroke-linejoin="round">
<path d="M665 1535 Q650 1440 620 1400 Q600 1380 540 1385 Q400 1400 350 1300 Q320 1230 310 1120 L215 1060 Q185 1040 200 1010 L300 870 L300 730 L1275 730 Q1265 900 1170 1100 Q1100 1250 1110 1340 Q1120 1450 1145 1535"/>
<path d="M440 855 V905"/><path d="M395 1160 Q460 1190 530 1160"/>
<path d="M765 875 Q850 820 920 880 Q970 950 900 1040 Q820 1120 770 1070 Q760 1055 765 1035"/>
<polygon points="345,172 395,223 464,244 431,308 432,379 362,368 294,391 283,320 240,263 304,231"/>
<polygon points="575,250 790,197 735,410"/>
<path d="M370 730 A172 172 0 1 1 660 730"/><path d="M490 425 L500 585 L650 555"/>
<circle cx="850" cy="505" r="62"/><circle cx="1040" cy="695" r="62" fill="#fff"/><circle cx="1285" cy="300" r="68"/>
<path d="M820 560 L740 715"/><path d="M895 550 L995 650"/><path d="M1075 645 L1250 360"/>
<path d="M960 275 Q1060 258 1120 345 Q1145 400 1110 425 Q1040 425 990 370 Q950 320 960 275Z"/>
<rect x="1105" y="470" width="235" height="85" rx="42" transform="rotate(45 1222 512)"/>
</svg>
<svg style="left:1355px;top:1230px" width="144" height="136" viewBox="0 0 1757 1659" fill="none" stroke="#e0574a" stroke-width="74" stroke-linecap="round" stroke-linejoin="round">
<path d="M670 1210 H145 V215 H1290 V460"/>
<circle cx="1290" cy="838" r="235"/>
<path d="M1000 1440 V1235 Q860 1140 740 985 Q680 890 745 835 Q815 785 890 860 Q1010 1010 1150 1085 Q1280 1110 1420 1075 Q1575 1160 1580 1440"/>
</svg>
<svg style="left:1555px;top:1222px" width="152" height="140" viewBox="0 0 1801 1659" fill="none" stroke="#e0574a" stroke-width="38" stroke-linecap="round" stroke-linejoin="round">
<path d="M660 700 A332 332 0 1 1 815 790 L652 900 Z" />
<path d="M545 340 A218 218 0 1 0 432 688 L525 880 L492 668 L548 618"/>
<path d="M1262 345 A218 218 0 1 1 1395 700 L1320 885 L1350 692 L1265 625"/>
<path d="M365 635 L250 520 Q205 440 270 405 Q330 385 365 440 Q400 385 460 405 Q525 440 480 520 Z"/>
<rect x="692" y="412" width="88" height="208"/>
<path d="M835 412 H890 Q915 320 918 272 Q950 240 985 275 L985 392 H1130 Q1150 400 1140 440 L1120 600 Q1110 620 1080 620 H835 Z"/>
<path d="M1385 415 H1580 M1320 490 H1580 M1320 565 H1510" stroke-width="44"/><path d="M1318 415 h6 M1572 565 h6" stroke-width="44"/>
<circle cx="895" cy="1075" r="160"/><path d="M630 1545 Q630 1250 895 1245 Q1165 1250 1165 1545 Z"/>
<circle cx="510" cy="1110" r="140"/><path d="M590 1545 H275 Q275 1270 510 1265 Q600 1265 650 1310"/>
<circle cx="1280" cy="1110" r="140"/><path d="M1140 1310 Q1190 1265 1280 1265 Q1515 1270 1520 1545 H1205"/>
</svg>
<svg style="left:1760px;top:1222px" width="144" height="140" viewBox="0 0 1706 1659" fill="none" stroke="#e0574a" stroke-width="42" stroke-linecap="butt" stroke-linejoin="round">
<defs><clipPath id="lens"><circle cx="515" cy="520" r="270"/></clipPath></defs>
<path d="M425 890 V1450 Q425 1530 505 1530 H1215 Q1290 1530 1290 1455 V545 L1060 300 H880" stroke-linecap="round"/>
<path d="M1050 312 V470 Q1050 530 1110 530 H1160" stroke-linecap="round"/>
<g stroke-width="46"><path d="M915 660 h50 M1035 660 h125 M890 800 h180 M1125 800 h40 M550 1045 h170 M785 1045 h75 M550 1190 h50 M665 1190 h240 M955 1190 h55 M545 1335 h225 M835 1335 h155 M1055 1335 h95"/></g>
<g clip-path="url(#lens)"><path d="M345 760 V450 Q345 395 400 395 H800"/><path d="M450 565 h130 M645 565 h130 M450 685 h280" stroke-width="46"/></g>
<circle cx="515" cy="520" r="385"/><circle cx="515" cy="520" r="290"/>
<path d="M780 800 L915 945" stroke-width="130"/><path d="M780 800 L915 945" stroke-width="46" stroke="#fff"/>
<path d="M840 880 l40 -38 M880 922 l40 -38" stroke-width="26"/>
<path d="M905 935 L1440 1430" stroke-width="168" stroke-linecap="round"/><path d="M880 910 L905 935" stroke-width="168"/>
<path d="M922 952 L1440 1430" stroke-width="84" stroke="#fff" stroke-linecap="round"/><path d="M1335 1432 L1440 1325" stroke-width="40"/>
</svg>
<div class="t" id="t68" style="left:1331.7px;transform-origin:0 0;transform:scaleX(0.9842);top:1111.0px;font-size:14.4px;line-height:18.7px;font-weight:400;color:#3a3a3a;"><span class="ln">Created a dedicated team</span><br><span class="ln">of leaders to champion</span><br><span class="ln">each pillar.</span></div>
<div class="t" id="t69" style="left:1546.0px;transform-origin:0 0;transform:scaleX(0.9957);top:1111.0px;font-size:14.4px;line-height:18.7px;font-weight:400;color:#3a3a3a;"><span class="ln">Developed specific action</span><br><span class="ln">plans to guide the work</span><br><span class="ln">for each pillar.</span></div>
<div class="t" id="t70" style="left:1760.0px;transform-origin:0 0;transform:scaleX(0.9968);top:1111.0px;font-size:14.4px;line-height:18.7px;font-weight:400;color:#3a3a3a;"><span class="ln">Provided education to 60+</span><br><span class="ln">human resource leaders to</span><br><span class="ln">improve employment processes.</span></div>
<div class="t" id="t71" style="left:1336.6px;transform-origin:0 0;transform:scaleX(0.9838);top:1386.0px;font-size:14.4px;line-height:18.7px;font-weight:400;color:#3a3a3a;"><span class="ln">Trained 277 staff/physicians</span><br><span class="ln">in accessibility confidence</span><br><span class="ln">at two all-staff education</span><br><span class="ln">sessions.</span></div>
<div class="t" id="t72" style="left:1546.0px;transform-origin:0 0;transform:scaleX(0.9762);top:1386.0px;font-size:14.4px;line-height:18.7px;font-weight:400;color:#3a3a3a;"><span class="ln">Created an “Accessibility</span></div>
<div class="t" id="t73" style="left:1546.0px;transform-origin:0 0;transform:scaleX(1.0329);top:1404.7px;font-size:14.4px;line-height:18.7px;font-weight:400;color:#3a3a3a;"><span class="ln">Community” to promote</span></div>
<div class="t" id="t74" style="left:1546.0px;transform-origin:0 0;transform:scaleX(0.9990);top:1423.4px;font-size:14.4px;line-height:18.7px;font-weight:400;color:#3a3a3a;"><span class="ln">public engagement</span></div>
<div class="t" id="t75" style="left:1546.0px;transform-origin:0 0;transform:scaleX(1.0381);top:1442.1px;font-size:14.4px;line-height:18.7px;font-weight:400;color:#3a3a3a;"><span class="ln">opportunities.</span></div>
<div class="t" id="t76" style="left:1761.5px;transform-origin:0 0;transform:scaleX(0.9997);top:1386.0px;font-size:14.4px;line-height:18.7px;font-weight:400;color:#3a3a3a;"><span class="ln">Gathered information on best</span><br><span class="ln">practices and accessibility tools</span><br><span class="ln">through a jurisdictional scan.</span></div>
<div class="t" id="t77" style="left:1333.0px;transform-origin:0 0;transform:scaleX(1.0143);top:1533.7px;font-size:16px;line-height:21.4px;font-weight:400;color:#333;"><span class="ln">While we are at the beginning of this important work, NL Health Services is focused on</span><br><span class="ln">creating meaningful change to improve accessibility in our organization. For example,</span><br><span class="ln">our implementation team is working towards building an accessibility audit toolkit to</span><br><span class="ln">review current health-care infrastructure within the province. The audit tool will help</span><br><span class="ln">to prioritize addressing any deficiencies, gaps or improvements that may be found</span><br><span class="ln">during the audit. NL Health Services is also continuing to engage with our community</span><br><span class="ln">accessibility partners to help validate this toolkit to meet the needs of the people of</span><br><span class="ln">the province.</span></div>
<div style="left:2080.0px;top:214.7px;width:295.8px;height:75.3px;background:#e8372a;border-radius:7px 7px 0 0;"></div>
<div class="t" id="t78" style="left:2095.2px;transform-origin:0 0;transform:scaleX(0.9575);top:217.8px;font-size:41px;line-height:51.25px;font-weight:700;color:#fff;"><span class="ln">Achievements</span></div>
<div style="left:2080.5px;top:278.0px;width:373.1px;height:1482.0px;background:#fff;border-radius:12px;box-shadow:0 0 0 1px rgba(0,0,0,.07),0 1px 3px rgba(0,0,0,.08);"></div>
<div class="t" id="t79" style="left:2135.7px;transform-origin:0 0;transform:scaleX(1.0407);top:324.8px;font-size:16px;line-height:21.35px;font-weight:400;color:#333;"><span class="ln">There have been significant positive</span><br><span class="ln">impacts for patients and staff during</span><br><span class="ln">the accessibility plan’s development</span><br><span class="ln">and implementation.</span></div>
<div style="left:2096.6px;top:501.0px;width:343.6px;height:1240.0px;background:linear-gradient(to bottom,#c9d1e6 0%,#cfd6e8 20%,#dce1ee 40%,#e6e9f3 60%,#eef1f7 79%,#fafbfd 93%,#fff 99%);border-radius:6px;"></div>
<div style="left:2118.5px;top:460.8px;width:302.9px;height:74.2px;background:#fff;border-radius:9px;box-shadow:0 0 0 1px rgba(120,130,170,.13);"></div>
<div class="t" id="t80" style="left:2141.5px;transform-origin:0 0;transform:scaleX(1.1116);top:490.6px;font-size:21.5px;line-height:26.88px;font-weight:700;color:#1464b0;-webkit-text-stroke:0.5px #1464b0;"><span class="ln">The</span></div>
<div class="t" id="t81" style="left:2193.0px;transform-origin:0 0;transform:scaleX(1.0189);top:465.8px;font-size:47px;line-height:58.75px;font-weight:700;color:#1464b0;-webkit-text-stroke:1.8px #1464b0;"><span class="ln">public</span></div>
<div class="t" id="t82" style="left:2343.0px;transform-origin:0 0;transform:scaleX(1.0212);top:489.6px;font-size:22.5px;line-height:28.12px;font-weight:700;color:#1464b0;-webkit-text-stroke:0.5px #1464b0;"><span class="ln">say:</span></div>
<div class="t" id="t83" style="left:2189.7px;transform-origin:0 0;transform:scaleX(0.9897);top:555.7px;font-size:16.3px;line-height:26.3px;font-weight:400;color:#333;"><span class="ln"><b style="font-size:19.8px;letter-spacing:-0.2px;line-height:0;color:#1b1b1b">They are pleased</b> to see</span><br><span class="ln">that NL Health Services is</span><br><span class="ln">addressing accessibility</span><br><span class="ln">issues with urgency.</span></div>
<div class="t" id="t84" style="left:2190.0px;transform-origin:0 0;transform:scaleX(1.0416);top:679.8px;font-size:16.3px;line-height:26.0px;font-weight:400;color:#333;"><span class="ln">The development of the</span><br><span class="ln">plan has <b style="font-size:19.8px;letter-spacing:-0.2px;line-height:0;color:#1b1b1b">increased</b></span><br><span class="ln"><b style="font-size:19.8px;letter-spacing:-0.2px;line-height:0;color:#1b1b1b">public trust</b> in the</span><br><span class="ln">health authority.</span></div>
<div class="t" id="t85" style="left:2192.8px;transform-origin:0 0;transform:scaleX(1.0321);top:805.8px;font-size:16.3px;line-height:25.9px;font-weight:400;color:#333;"><span class="ln">The promotion of the plan</span><br><span class="ln">has <b style="font-size:19.8px;letter-spacing:-0.2px;line-height:0;color:#1b1b1b">shown public</b></span><br><span class="ln"><b style="font-size:19.8px;letter-spacing:-0.2px;line-height:0;color:#1b1b1b">transparency and</b></span><br><span class="ln"><b style="font-size:19.8px;letter-spacing:-0.2px;line-height:0;color:#1b1b1b">accountability</b> in our</span><br><span class="ln">accessibility practices and</span><br><span class="ln">processes.</span></div>
<div style="left:2113.0px;top:991.0px;width:310.0px;height:130.7px;background:#fff;border-radius:9px;"></div>
<div class="t" id="t86" style="left:2132.3px;transform-origin:0 0;transform:scaleX(1.1057);top:1021.3px;font-size:22px;line-height:27.5px;font-weight:700;color:#1464b0;-webkit-text-stroke:0.5px #1464b0;"><span class="ln">For</span></div>
<div class="t" id="t87" style="left:2178.4px;transform-origin:0 0;transform:scaleX(1.0098);top:997.0px;font-size:47px;line-height:58.75px;font-weight:700;color:#1464b0;-webkit-text-stroke:1.8px #1464b0;"><span class="ln">staff,</span></div>
<div class="t" id="t88" style="left:2132.3px;transform-origin:0 0;transform:scaleX(1.0278);top:1058.2px;font-size:16.2px;line-height:20.4px;font-weight:400;color:#222;"><span class="ln">a formalized approach to accessibility</span><br><span class="ln">practices at NL Health Services has:</span></div>
<div class="t" id="t89" style="left:2188.4px;transform-origin:0 0;transform:scaleX(0.9989);top:1147.0px;font-size:16.3px;line-height:26.0px;font-weight:400;color:#333;"><span class="ln"><b style="font-size:19.8px;letter-spacing:-0.2px;line-height:0;color:#1b1b1b">Increased access</b> to</span><br><span class="ln">resources and expertise.</span></div>
<div class="t" id="t90" style="left:2188.4px;transform-origin:0 0;transform:scaleX(1.0227);top:1227.1px;font-size:19.8px;line-height:26.0px;font-weight:700;color:#1b1b1b;"><span class="ln">Increased staff</span><br><span class="ln">collaboration and</span><br><span class="ln">commitment.</span></div>
<div class="t" id="t91" style="left:2188.4px;transform-origin:0 0;transform:scaleX(1.0281);top:1329.1px;font-size:19.8px;line-height:24.75px;font-weight:700;color:#1b1b1b;"><span class="ln">Provided opportunities</span></div>
<div class="t" id="t92" style="left:2188.4px;transform-origin:0 0;transform:scaleX(1.0122);top:1355.7px;font-size:16.3px;line-height:25.9px;font-weight:400;color:#333;"><span class="ln">for staff to access the</span><br><span class="ln">education and learning</span><br><span class="ln">required to improve</span><br><span class="ln">accessibility in their own areas</span><br><span class="ln">of work.</span></div>
<div style="left:2113.0px;top:1511.0px;width:310.4px;height:222.0px;background:linear-gradient(to bottom,#fff 0%,#fff 70%,rgba(255,255,255,0) 100%);border-radius:11px;"></div>
<div class="t" id="t93" style="left:2126.2px;transform-origin:0 0;transform:scaleX(1.0224);top:1521.2px;font-size:16px;line-height:21.3px;font-weight:400;color:#333;"><span class="ln">Meaningful change is underway and, as</span><br><span class="ln">we continue to move the accessibility</span><br><span class="ln">plan forward, NL Health Services</span><br><span class="ln">remains committed to providing safe,</span><br><span class="ln">quality care that is free of barriers and</span><br><span class="ln">inclusive for all. Together, with patients</span><br><span class="ln">and key partners, we are building a</span><br><span class="ln">future where accessibility and inclusion</span><br><span class="ln">for all is at the heart of everything we do.</span></div>
<svg style="left:2106px;top:552px" width="90" height="60" viewBox="0 0 2212 1475" fill="none" stroke="#e23b3b" stroke-width="42" stroke-linecap="round" stroke-linejoin="round">
<path d="M910 420 L1140 260 L1330 390 V345 H1525 V520 L1720 680 L1640 790 L1140 450 L1050 510"/>
<path d="M1600 790 V1215 H1330"/><rect x="1290" y="780" width="180" height="180"/>
<circle cx="645" cy="555" r="105"/><circle cx="915" cy="610" r="95"/><circle cx="440" cy="830" r="85"/><circle cx="1135" cy="955" r="75"/>
<path d="M340 1350 L290 1250 V1080 Q290 970 400 960 H480 Q590 970 590 1080 V1250 L540 1350"/>
<path d="M1060 1350 L1010 1270 V1170 Q1010 1080 1100 1075 H1170 Q1260 1080 1260 1170 V1270 L1210 1350"/>
<path d="M810 1350 V1180 Q760 1100 760 900 Q760 780 900 770 Q1000 770 1060 850"/>
<path d="M350 790 Q400 730 600 720 Q760 715 800 760"/>
<circle cx="330" cy="1010" r="32"/><circle cx="1035" cy="792" r="35"/>
</svg>
<svg style="left:2106px;top:682px" width="90" height="60" viewBox="0 0 2212 1475" fill="none" stroke="#e23b3b" stroke-width="42" stroke-linecap="round" stroke-linejoin="round">
<path d="M990 470 V265 H1600 V745 H1100"/>
<path d="M1165 400 A170 170 0 1 1 1215 655"/><path d="M1300 340 V510 L1440 590"/>
<circle cx="810" cy="495" r="110"/>
<path d="M640 870 Q630 700 750 670 Q820 700 870 680 Q1050 600 1170 480 Q1200 500 1190 530 Q1100 680 980 740 Q940 770 950 870"/>
<path d="M760 850 L775 930"/>
<circle cx="595" cy="1015" r="115"/><circle cx="1050" cy="1015" r="115"/><circle cx="1505" cy="1015" r="115"/>
<path d="M400 1350 Q400 1200 600 1195 Q800 1200 820 1330 Q850 1200 1050 1195 Q1250 1200 1275 1330 Q1300 1200 1500 1195 Q1700 1200 1710 1350"/>
</svg>
<svg style="left:2106px;top:805px" width="90" height="60" viewBox="0 0 2212 1475" fill="none" stroke="#e23b3b" stroke-width="42" stroke-linecap="round" stroke-linejoin="round">
<circle cx="770" cy="400" r="135"/><circle cx="1165" cy="345" r="160"/><circle cx="1585" cy="400" r="135"/>
<path d="M620 1190 Q540 1130 540 1050 V760 Q550 620 680 610 L780 650 L870 610 Q900 610 920 640"/>
<path d="M1720 1190 Q1810 1130 1810 1050 V760 Q1800 620 1680 610 L1585 650 L1490 610 Q1450 610 1420 640"/>
<path d="M990 1200 V1000 H960 Q890 990 890 920 Q900 620 1060 590 L1150 640 L1250 590 Q1420 620 1430 900 V1050 Q1420 1150 1340 1190"/>
<rect x="1030" y="740" width="260" height="140"/><path d="M990 1000 H1300 V880"/>
</svg>
<svg style="left:2106px;top:1140px" width="90" height="60" viewBox="0 0 2212 1475" fill="none" stroke="#e23b3b" stroke-width="42" stroke-linecap="round" stroke-linejoin="round">
<circle cx="950" cy="385" r="215"/>
<path d="M820 700 Q600 720 560 860 L480 1180 Q470 1260 560 1300"/><path d="M1080 700 Q1300 720 1340 860 L1430 1180 Q1440 1260 1340 1300"/>
<path d="M830 700 L900 880 M1070 700 L1000 880 M950 720 V880"/>
<rect x="660" y="905" width="510" height="135"/><rect x="680" y="1040" width="600" height="150"/><rect x="780" y="1190" width="350" height="140"/>
<rect x="570" y="1150" width="190" height="250" rx="85" fill="#e8ebf3"/><rect x="1150" y="1150" width="190" height="250" rx="85" fill="#e8ebf3"/>
</svg>
<svg style="left:2106px;top:1220px" width="90" height="60" viewBox="0 0 2212 1475" fill="none" stroke="#e23b3b" stroke-width="42" stroke-linecap="round" stroke-linejoin="round">
<circle cx="685" cy="510" r="145"/><circle cx="1470" cy="510" r="145"/>
<path d="M415 1110 V900 Q420 740 580 725 Q850 720 980 480 Q1040 400 1090 420 Q1130 450 1110 560 Q1060 750 880 860 V1110 Z"/>
<path d="M1100 640 Q1150 760 1270 860 V1110 H1730 V900 Q1720 740 1590 725 L1440 790 Q1250 680 1180 500 Q1150 420 1090 420"/>
<path d="M570 960 V1100 M1570 940 V1100"/>
<path d="M1030 240 L1050 330 M1140 260 L1135 340 M1240 310 L1200 370"/>
</svg>
<svg style="left:2106px;top:1326px" width="90" height="60" viewBox="0 0 2212 1475" fill="none" stroke="#e23b3b" stroke-width="42" stroke-linecap="round" stroke-linejoin="round">
<circle cx="1050" cy="455" r="215"/>
<path d="M570 1290 L690 880 Q740 750 870 740 L1040 840 L1190 740 Q1320 750 1400 900"/>
<path d="M820 1030 L790 1100 H1000 Q1080 1110 1080 1190 V1290"/>
<path d="M1150 1290 L1220 940 H1760 L1690 1290"/><circle cx="1465" cy="1130" r="20" fill="#c33" stroke="none"/>
<path d="M520 1295 H1780" stroke-width="48"/>
</svg>
<svg style="left:100px;top:1808px" width="160" height="66" viewBox="100 1808 160 66">
<path d="M153 1814 H238 Q246.3 1814 246.3 1822 V1859 Q246.3 1867.3 238 1867.3 H118 Q110 1867.3 107.3 1862 Q104.5 1856.5 110 1851.5 L145 1817.5 Q148.5 1814 153 1814 Z" fill="#232b3b"/>
<polygon points="152,1834.2 160.5,1841.8 152,1849.4" fill="#f6c91c"/>
</svg>
<div class="t" id="t94" style="left:141.6px;transform-origin:0 0;transform:scaleX(1.0000);top:1823.1px;font-size:30.6px;line-height:38.25px;font-weight:700;color:#fff;-webkit-text-stroke:0.6px #fff;"><span class="ln">I</span></div>
<div class="t" id="t95" style="left:158.5px;transform-origin:0 0;transform:scaleX(0.8940);top:1823.1px;font-size:30.6px;line-height:38.25px;font-weight:700;color:#fff;-webkit-text-stroke:0.6px #fff;"><span class="ln">CARE</span></div>
<div class="t" id="t96" style="left:258.5px;transform-origin:0 0;transform:scaleX(1.0368);top:1813.4px;font-size:8.6px;line-height:10.58px;font-weight:700;color:#1e2230;"><span class="ln">Innovation</span><br><span class="ln">Compassion</span><br><span class="ln">Accountability</span><br><span class="ln">Respect</span><br><span class="ln">Excellence</span></div>
<div style="left:250.8px;top:1816.6px;width:2.6px;height:4.6px;background:rgba(240,210,90,.55);border-radius:1px;"></div>
<div style="left:250.8px;top:1827.2px;width:2.6px;height:4.6px;background:rgba(240,210,90,.55);border-radius:1px;"></div>
<div style="left:250.8px;top:1837.8px;width:2.6px;height:4.6px;background:rgba(240,210,90,.55);border-radius:1px;"></div>
<div style="left:250.8px;top:1848.3px;width:2.6px;height:4.6px;background:rgba(240,210,90,.55);border-radius:1px;"></div>
<div style="left:250.8px;top:1858.9px;width:2.6px;height:4.6px;background:rgba(240,210,90,.55);border-radius:1px;"></div>
<div class="t" id="t97" style="left:1280.0px;text-align:center;transform-origin:0 0;transform:scaleX(1.0624) translateX(-50%);top:1829.6px;font-size:23.5px;line-height:29.38px;font-weight:400;color:#1c1c1c;"><span class="ln">Diversity, Equity and Inclusion</span></div>
<svg style="left:2232px;top:1794px" width="82" height="82" viewBox="2232 1794 82 82">
<g stroke="#fff" stroke-width="3.2" stroke-linejoin="round" fill="#fff" opacity=".9">
<path d="M2257 1805 Q2257 1801.5 2260.5 1801.8 Q2262 1802 2263 1803.2 L2273.3 1813.8 Q2274.3 1815 2274.3 1816.5 V1831.4 H2257 Z"/>
<path d="M2275.5 1833.1 H2290.5 Q2292 1833.1 2293 1834.2 L2304 1845.5 Q2306.2 1848.3 2302.5 1849.6 H2275.5 Z"/>
<rect x="2240" y="1832.9" width="17" height="17.1" rx="2.5"/><rect x="2257.4" y="1850.2" width="17.3" height="17" rx="2.5"/>
<rect x="2257" y="1832.9" width="18" height="17.1"/>
<polygon points="2277,1817.6 2277,1830.2 2290.5,1830.2"/>
</g>
<path d="M2257 1805 Q2257 1801.5 2260.5 1801.8 Q2262 1802 2263 1803.2 L2273.3 1813.8 Q2274.3 1815 2274.3 1816.5 V1831.4 H2257 Z" fill="#e8372a"/>
<polygon points="2277,1817.6 2277,1830.2 2290.5,1830.2" fill="#f7c81e"/>
<path d="M2275.5 1833.1 H2290.5 Q2292 1833.1 2293 1834.2 L2304 1845.5 Q2306.2 1848.3 2302.5 1849.6 H2275.5 Z" fill="#e8372a"/>
<rect x="2240" y="1832.9" width="17" height="17.1" rx="2.5" fill="#1664b7"/>
<rect x="2257.4" y="1850.2" width="17.3" height="17" rx="2.5" fill="#1664b7"/>
</svg>
<div class="t" id="t98" style="left:2329.3px;transform-origin:0 0;transform:scaleX(1.0509);top:1808.3px;font-size:25.5px;line-height:31.88px;font-weight:700;color:#0f1230;-webkit-text-stroke:0.4px #0f1230;"><span class="ln">NL Health</span></div>
<div class="t" id="t99" style="left:2329.3px;transform-origin:0 0;transform:scaleX(0.9141);top:1833.3px;font-size:26.5px;line-height:33.12px;font-weight:400;color:#0f1230;-webkit-text-stroke:0.35px #0f1230;"><span class="ln">Services</span></div>
</div></body></html>
